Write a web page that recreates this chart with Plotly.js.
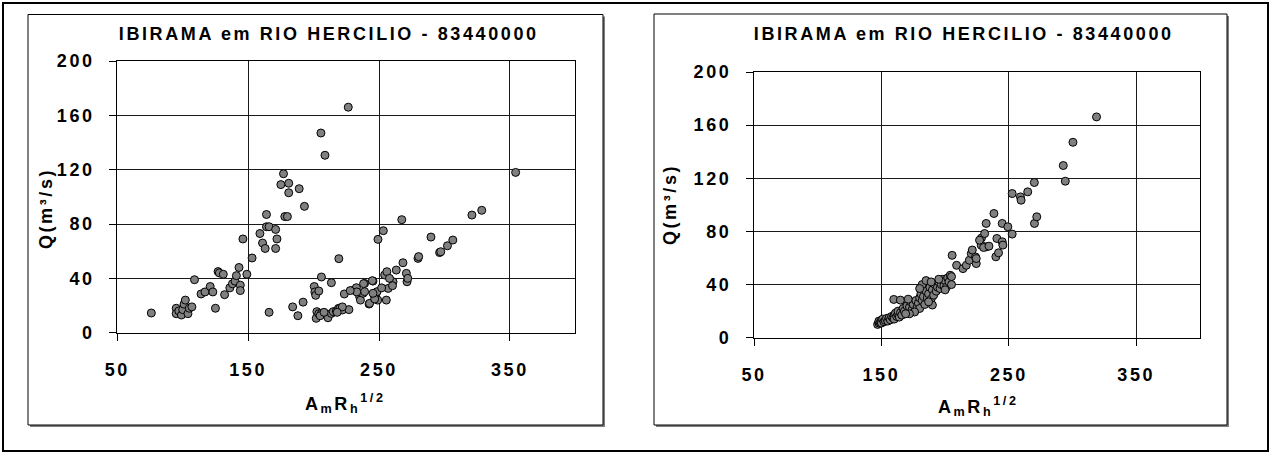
<!DOCTYPE html>
<html>
<head>
<meta charset="utf-8">
<script src="https://cdn.plot.ly/plotly-3.0.1.min.js"></script>
<style>
html,body{margin:0;padding:0;background:#fff;}
#chart{width:1271px;height:453px;}
#chart text{letter-spacing:2.6px;}
</style>
</head>
<body>
<div id="chart"></div>
<script>
// ---- data ----
const chartTitle = "IBIRAMA em RIO HERCILIO - 83440000";
const yTitle = "Q(m³/s)";
const xTitle = "A<sub>m</sub>R<sub>h</sub><sup>1/2</sup>";

// left panel: Q versus A_m R_h^1/2 (all observations)
const leftX = [76,95,95,97,99,100,101,102,104,105,107,109,114,117,121,123,125,127,128,131,132,136,138,140,141,143,144,144,146,149,153,159,161,163,164,164,166,166,171,171,172,175,177,181,181,178,180,189,193,184,188,192,205.6,208.7,226.5,
200.5,201,201.6,204,206,213.6,219.3,202.5,202,204,206,209.8,211,213.6,215,217.4,219,220,222,223.5,227,222,230.6,232.7,235.2,235.8,239,237.8,242.4,239,245.4,246.7,248.5,249,254.3,256,255.6,257,260.7,260.3,263.2,268.3,270.9,271.4,272,279.8,280.3,296.3,297.2,302.3,306.4,289.7,249.2,253.3,267.4,321,328.5,354.4,244.9,238.2,242.8,246.7,245.4,233,252,258,228,205,208,218];
const leftY = [14.5,18,14,16,13,17,21,24,14,18,19,39,28.5,30,34,30,18,45,44,43,28,33,36,38,42,48,35,31,69,43,55,73,66,62,87,78,78,15,76,62,69,109,117,110,103,85.5,85.5,106,93,19,12.5,22.5,147,130.6,166,
34,30,27.5,30.7,41,36.8,54.5,15.5,10.6,14,14.2,13,11,14.2,15.5,16,17.9,17.9,16.7,28.5,17,19,31.4,33.1,26.5,24,36.3,29,21.1,30.2,38,26.5,30.2,24,42.5,44.9,24,32.6,37.5,34.6,46.1,51.5,43.7,37.5,40,54.7,56,59,59.6,64,68.2,70.4,68.7,75.1,83.2,86.6,90.1,118,38.3,36.1,21.6,24.8,29,30,33,40,31,12.5,15,15];

// right panel: Q versus corrected A_m R_h^1/2
const rightX = [147,148,148,149,150,150,151,152,153,154,155,156,157,158,159,160,160,161,162,163,163,164,165,166,167,168,170,171,172,173,174,175,176,177,178,179,180,180,181,182,183,184,185,186,187,188,189,190,191,192,193,194,195,196,197,198,199,200,201,202,203,204,205,205,
159.7,164.9,190,176,182,185,180,187,171,195,200,172,169,189,
205.5,209,214,216.6,219,220.5,224.4,223.8,224.4,221.3,228.3,228.5,232.2,230.2,231,232.2,227,234.4,238.3,240.6,239.8,241.9,244.8,245.3,244.8,249.2,252.6,252.6,259.1,259.6,264.8,270,270.1,271.9,292.7,294.3,300.3,318.8];
const rightY = [10,11,12.5,11.5,13,11,14,12,13,14.5,12.5,15,13.5,16,15,17,14,18.5,16,17.5,20,15.5,19,17,22,20,24,19,23,27,21,25,19.5,28,23,26,30,22,33,28,31,25,35,30,33,38,29,36,32,40,35,38,42,37,40,44,39,43,38,45,42,47,40,46,
28.8,28.3,24.6,19.4,40,43,37,27,29,44,36,18,18,42,
62,54.5,52,54.5,58.3,63.3,55.8,60.8,59.6,66,69.6,75,68.4,67.9,78.4,86,73.4,68.9,93.5,74.7,60.9,63.9,72.2,69.7,86,83.5,78,108.5,106,103.5,109.8,116.8,86,91,129.6,117.8,147.1,166.2];

const xTickVals = [50,150,250,350];
const yTickVals = [0,40,80,120,160,200];

// ---- layout helpers (pixel -> paper) ----
const W = 1271, H = 453;
const px = v => v / W;
const py = v => 1 - v / H;

const FONT = {family: "Liberation Sans, Arial, sans-serif", size: 18, color: "#000", weight: "bold"};

const marker = {size: 8, color: "#808080", line: {color: "#000", width: 1}};

function xAxis(domain, anchor) {
  return {
    domain: domain, anchor: anchor, range: [50, 400],
    tickmode: "array", tickvals: xTickVals, ticktext: xTickVals.map(String),
    showgrid: true, gridcolor: "#1a1a1a", gridwidth: 1,
    showline: true, linecolor: "#000", linewidth: 1, mirror: true,
    ticks: "outside", ticklen: 7, tickcolor: "#000", tickwidth: 1,
    ticklabelstandoff: 14,
    zeroline: false, tickfont: FONT, fixedrange: true
  };
}
function yAxis(domain, anchor) {
  return {
    domain: domain, anchor: anchor, range: [0, 200],
    tickmode: "array", tickvals: yTickVals, ticktext: yTickVals.map(String),
    showgrid: true, gridcolor: "#1a1a1a", gridwidth: 1,
    showline: true, linecolor: "#000", linewidth: 1, mirror: true,
    ticks: "outside", ticklen: 7, tickcolor: "#000", tickwidth: 1,
    ticklabelstandoff: 11,
    zeroline: false, tickfont: FONT, fixedrange: true
  };
}

const data = [
  {type: "scatter", mode: "markers", x: leftX, y: leftY, xaxis: "x", yaxis: "y", marker: marker, hoverinfo: "skip", cliponaxis: false},
  {type: "scatter", mode: "markers", x: rightX, y: rightY, xaxis: "x2", yaxis: "y2", marker: marker, hoverinfo: "skip", cliponaxis: false}
];

function box(x0, y0, x1, y1) {
  return [
    {type: "rect", xref: "paper", yref: "paper", layer: "below",
     x0: px(x0 + 2), x1: px(x1 + 2), y0: py(y1 + 2), y1: py(y0 + 2),
     fillcolor: "#7f7f7f", line: {width: 0}},
    {type: "rect", xref: "paper", yref: "paper", layer: "below",
     x0: px(x0), x1: px(x1), y0: py(y1), y1: py(y0),
     fillcolor: "#fff", line: {color: "#000", width: 1}}
  ];
}

const shapes = [
  {type: "rect", xref: "paper", yref: "paper", layer: "below",
   x0: px(3), x1: px(1268), y0: py(451), y1: py(3),
   fillcolor: "rgba(0,0,0,0)", line: {color: "#000", width: 2}}
].concat(box(28, 14.5, 603, 425)).concat(box(654, 14, 1227, 425));

function ann(text, x, y, angle) {
  return {text: text, xref: "paper", yref: "paper", x: px(x), y: py(y),
          xanchor: "center", yanchor: "middle", showarrow: false,
          textangle: angle || 0, font: FONT};
}

const layout = {
  width: W, height: H,
  margin: {l: 0, r: 0, t: 0, b: 0},
  paper_bgcolor: "#fff", plot_bgcolor: "rgba(0,0,0,0)",
  showlegend: false,
  xaxis: xAxis([px(117.3), px(575.3)], "y"),
  yaxis: yAxis([py(332.7), py(61)], "x"),
  xaxis2: xAxis([px(754), px(1200)], "y2"),
  yaxis2: yAxis([py(337.7), py(72)], "x2"),
  shapes: shapes,
  annotations: [
    ann(chartTitle, 328, 34),
    ann(chartTitle, 963, 34),
    ann(yTitle, 45.5, 208.5, -90),
    ann(yTitle, 670, 205, -90),
    ann(xTitle, 345, 403),
    ann(xTitle, 978, 406)
  ]
};

Plotly.newPlot("chart", data, layout, {staticPlot: true, displayModeBar: false});
</script>
</body>
</html>
